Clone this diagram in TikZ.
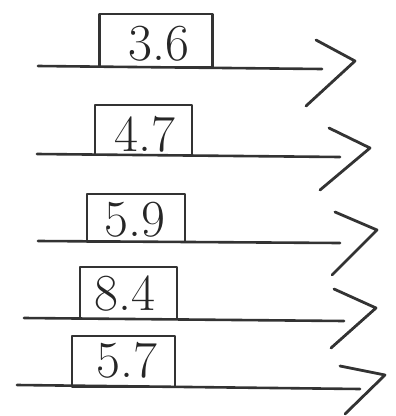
\documentclass[tikz,border=0pt]{standalone}
\begin{document}
\begin{tikzpicture}[x=1pt,y=-1pt,
  ink/.style={draw=black!80,line width=2.6pt,line cap=round,line join=round},
  valbox/.style={ink,line width=2.3pt,rectangle,inner sep=0pt},
  num/.style={anchor=base,inner sep=0pt,font=\fontsize{52}{52}\selectfont,text=black!85},
  chev/.style={ink,line width=2.8pt}]
\useasboundingbox (0,0) rectangle (396,416);
% row 1
\coordinate (s1) at (38,66); \coordinate (e1) at (322,69);
\draw[ink] (s1) -- (e1);
\node[valbox,minimum width=113pt,minimum height=53pt] (b1) at (156,40.5) {};
\node[num] (t1) at (159,60) {3.6};
\draw[chev] (316,40) -- (355,61) -- (306,106);
% row 2
\coordinate (s2) at (37,154); \coordinate (e2) at (340,157);
\draw[ink] (s2) -- (e2);
\node[valbox,minimum width=97pt,minimum height=50pt] (b2) at (143.5,130) {};
\node[num] (t2) at (145,151) {4.7};
\draw[chev] (329,128) -- (370,148) -- (320,190);
% row 3
\coordinate (s3) at (38,241); \coordinate (e3) at (340,243);
\draw[ink] (s3) -- (e3);
\node[valbox,minimum width=98pt,minimum height=48pt] (b3) at (136,218) {};
\node[num] (t3) at (135,236) {5.9};
\draw[chev] (335,212) -- (377,230) -- (332,275);
% row 4
\coordinate (s4) at (24,318); \coordinate (e4) at (344,321);
\draw[ink] (s4) -- (e4);
\node[valbox,minimum width=97pt,minimum height=52pt] (b4) at (128.5,293) {};
\node[num] (t4) at (125,310) {8.4};
\draw[chev] (334,289) -- (376,308) -- (331,348);
% row 5
\coordinate (s5) at (17,385); \coordinate (e5) at (360,389);
\draw[ink] (s5) -- (e5);
\node[valbox,minimum width=103pt,minimum height=51pt] (b5) at (123.5,361.5) {};
\node[num] (t5) at (127,377) {5.7};
\draw[chev] (340,366) -- (385,375) -- (345,414);
\end{tikzpicture}
\end{document}
